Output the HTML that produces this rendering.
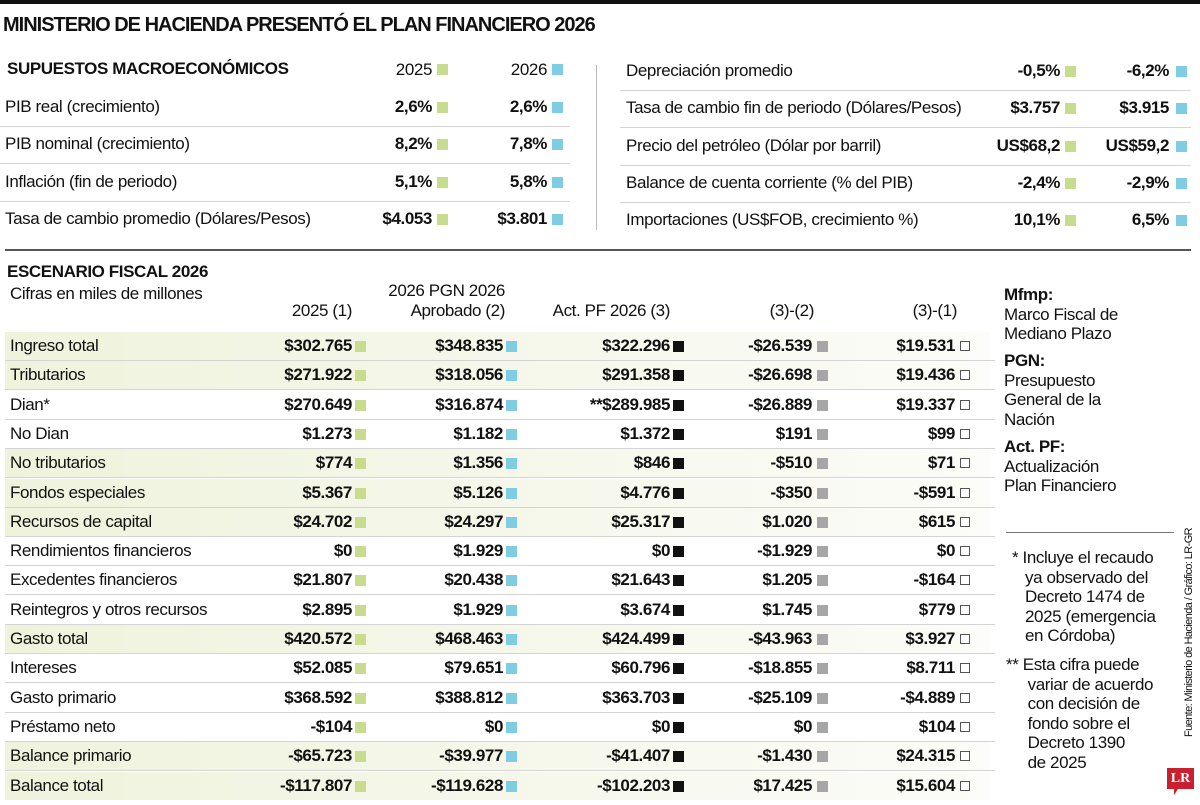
<!DOCTYPE html>
<html><head><meta charset="utf-8">
<style>
body{margin:0;background:#fff;}
#root{position:relative;width:1200px;height:805px;overflow:hidden;background:#fff;font-family:"Liberation Sans",sans-serif;color:#111;}
.t{position:absolute;white-space:nowrap;line-height:24px;height:24px;font-size:17px;letter-spacing:-0.4px;}
.b{font-weight:bold;}
.r{text-align:right;}
.sq{position:absolute;width:11px;height:11px;}
.hl{position:absolute;height:1px;background:#d4d4d4;}
.note{position:absolute;font-size:17px;line-height:19.5px;letter-spacing:-0.4px;white-space:nowrap;}
</style></head><body>
<div id="root">
<div style="position:absolute;left:0;top:0;width:1200px;height:4px;background:#111"></div>
<div class="t b" style="left:3px;top:11px;font-size:20px;letter-spacing:-1px;line-height:28px;height:28px">MINISTERIO DE HACIENDA PRESENTÓ EL PLAN FINANCIERO 2026</div>
<div style="position:absolute;left:596px;top:65px;width:1px;height:165px;background:#bbb"></div>
<div style="position:absolute;left:5px;top:249px;width:1186px;height:2px;background:#555"></div>
<div id="macro"></div>
<div id="fiscal"></div>

<div class="note" style="left:1004px;top:285px"><b>Mfmp:</b><br>Marco Fiscal de<br>Mediano Plazo</div>
<div class="note" style="left:1004px;top:351px"><b>PGN:</b><br>Presupuesto<br>General de la<br>Nación</div>
<div class="note" style="left:1004px;top:437px"><b>Act. PF:</b><br>Actualización<br>Plan Financiero</div>
<div style="position:absolute;left:1006px;top:532px;width:168px;height:1px;background:#777"></div>
<div class="note" style="left:1012px;top:548px">* Incluye el recaudo<br>&nbsp;&nbsp;&nbsp;ya observado del<br>&nbsp;&nbsp;&nbsp;Decreto 1474 de<br>&nbsp;&nbsp;&nbsp;2025 (emergencia<br>&nbsp;&nbsp;&nbsp;en Córdoba)</div>
<div class="note" style="left:1006px;top:655px">** Esta cifra puede<br>&nbsp;&nbsp;&nbsp;&nbsp;&nbsp;variar de acuerdo<br>&nbsp;&nbsp;&nbsp;&nbsp;&nbsp;con decisión de<br>&nbsp;&nbsp;&nbsp;&nbsp;&nbsp;fondo sobre el<br>&nbsp;&nbsp;&nbsp;&nbsp;&nbsp;Decreto 1390<br>&nbsp;&nbsp;&nbsp;&nbsp;&nbsp;de 2025</div>
<div style="position:absolute;left:1183px;top:737px;transform:rotate(-90deg);transform-origin:0 0;font-size:11px;letter-spacing:-0.6px;white-space:nowrap">Fuente: Ministerio de Hacienda / Gráfico: LR-GR</div>
<div style="position:absolute;left:1167px;top:768px;width:27px;height:21px;background:#c8202f;color:#fff;font-family:'Liberation Serif',serif;font-weight:bold;font-size:14px;text-align:center;line-height:21px">LR</div>
<div style="position:absolute;left:1174px;top:789px;width:0;height:0;border-left:4px solid #c8202f;border-bottom:6px solid transparent"></div>
</div>
<script>
var GREEN='#c7dc8c',BLUE='#7fcde3';
var macroLeftLabels=['PIB real (crecimiento)','PIB nominal (crecimiento)','Inflación (fin de periodo)','Tasa de cambio promedio (Dólares/Pesos)'];
var macroLeft2025=['2,6%','8,2%','5,1%','$4.053'];
var macroLeft2026=['2,6%','7,8%','5,8%','$3.801'];
var macroRightLabels=['Depreciación promedio','Tasa de cambio fin de periodo (Dólares/Pesos)','Precio del petróleo (Dólar por barril)','Balance de cuenta corriente (% del PIB)','Importaciones (US$FOB, crecimiento %)'];
var macroRight2025=['-0,5%','$3.757','US$68,2','-2,4%','10,1%'];
var macroRight2026=['-6,2%','$3.915','US$59,2','-2,9%','6,5%'];
var fiscalLabels=['Ingreso total','Tributarios','Dian*','No Dian','No tributarios','Fondos especiales','Recursos de capital','Rendimientos financieros','Excedentes financieros','Reintegros y otros recursos','Gasto total','Intereses','Gasto primario','Préstamo neto','Balance primario','Balance total'];
var fiscalHighlight=[1,1,0,0,1,1,1,0,0,0,1,0,0,0,1,1];
var col2025=['$302.765','$271.922','$270.649','$1.273','$774','$5.367','$24.702','$0','$21.807','$2.895','$420.572','$52.085','$368.592','-$104','-$65.723','-$117.807'];
var colPGN=['$348.835','$318.056','$316.874','$1.182','$1.356','$5.126','$24.297','$1.929','$20.438','$1.929','$468.463','$79.651','$388.812','$0','-$39.977','-$119.628'];
var colActPF=['$322.296','$291.358','**$289.985','$1.372','$846','$4.776','$25.317','$0','$21.643','$3.674','$424.499','$60.796','$363.703','$0','-$41.407','-$102.203'];
var colDiff32=['-$26.539','-$26.698','-$26.889','$191','-$510','-$350','$1.020','-$1.929','$1.205','$1.745','-$43.963','-$18.855','-$25.109','$0','-$1.430','$17.425'];
var colDiff31=['$19.531','$19.436','$19.337','$99','$71','-$591','$615','$0','-$164','$779','$3.927','$8.711','-$4.889','$104','$24.315','$15.604'];

function txt(parent,x,y,s,cls,right){
  var d=document.createElement('div');
  d.className='t '+(cls||'')+(right?' r':'');
  if(right){d.style.left=(x-420)+'px';d.style.width='420px';}else d.style.left=x+'px';
  d.style.top=(y-12)+'px';
  d.textContent=s;
  parent.appendChild(d);return d;
}
function sq(parent,x,y,fill,border){
  var d=document.createElement('div');d.className='sq';
  d.style.left=x+'px';d.style.top=(y-5)+'px';d.style.background=fill;
  if(border){d.style.border='1px solid #555';d.style.width='10px';d.style.height='10px';d.style.boxSizing='border-box';}
  parent.appendChild(d);return d;
}
function hline(parent,x,y,w){var d=document.createElement('div');d.className='hl';d.style.left=x+'px';d.style.top=y+'px';d.style.width=w+'px';parent.appendChild(d);return d;}

var M=document.getElementById('macro');
var el;
el=txt(M,7,69,'SUPUESTOS MACROECONÓMICOS','b');


el=txt(M,432,70,'2025','',true);


sq(M,437,69,GREEN);
el=txt(M,547,70,'2026','',true);


sq(M,552,69,BLUE);
var rowY0=107,rowDy=37.3;
macroLeftLabels.forEach(function(l,i){
  var y=rowY0+i*rowDy;
  el=txt(M,5,y,l);
  
  
  el=txt(M,432,y,macroLeft2025[i],'b',true);
  
  
  sq(M,437,y,GREEN);
  el=txt(M,547,y,macroLeft2026[i],'b',true);
  
  
  sq(M,552,y,BLUE);
  if(i<macroLeftLabels.length-1){el=hline(M,0,y+19,570);
  
  }
});
macroRightLabels.forEach(function(l,i){
  var y=71+i*rowDy;
  el=txt(M,626,y,l);
  
  
  el=txt(M,1060,y,macroRight2025[i],'b',true);
  
  
  sq(M,1065,y,GREEN);
  el=txt(M,1169,y,macroRight2026[i],'b',true);
  
  
  sq(M,1176,y,BLUE);
  if(i<macroRightLabels.length-1){el=hline(M,620,y+19,571);
  
  }
});

var F=document.getElementById('fiscal');
el=txt(F,7,272,'ESCENARIO FISCAL 2026','b');


el=txt(F,10,294,'Cifras en miles de millones');


var colRight=[352,503,670,812,955];
var colHead1=['','2026 PGN 2026','','',''];
var colHead2=['2025 (1)','Aprobado (2)','Act. PF 2026 (3)','(3)-(2)','(3)-(1)'];
var cols=[col2025,colPGN,colActPF,colDiff32,colDiff31];
var colFill=[GREEN,BLUE,'#111','#a6a6a6','#fff'];
colRight.forEach(function(x,c){
  if(colHead1[c]){el=txt(F,x+2,291,colHead1[c],'',true);
  
  }
  el=txt(F,x+(c==0||c==2?0:2),311,colHead2[c],'',true);
  
  
});
var fy0=346,fdy=29.3;
fiscalLabels.forEach(function(l,i){
  var y=fy0+i*fdy;
  if(fiscalHighlight[i]){
    var bg=document.createElement('div');
    bg.style.cssText='position:absolute;left:5px;width:985px;top:'+(y-14)+'px;height:28px;background:linear-gradient(90deg,#eff3dc 0%,#f5f7ea 50%,#fcfcf8 100%)';
    
    
    F.appendChild(bg);
  }
  el=txt(F,10,y,l);
  
  
  cols.forEach(function(arr,c){
    el=txt(F,colRight[c],y,arr[i],'b',true);
    
    
    sq(F,colRight[c]+(c<3?3:5),y,colFill[c],c==4);
  });
  if(i<fiscalLabels.length-1){el=hline(F,5,y+14,990);
  
  }
});
</script>
</body></html>
